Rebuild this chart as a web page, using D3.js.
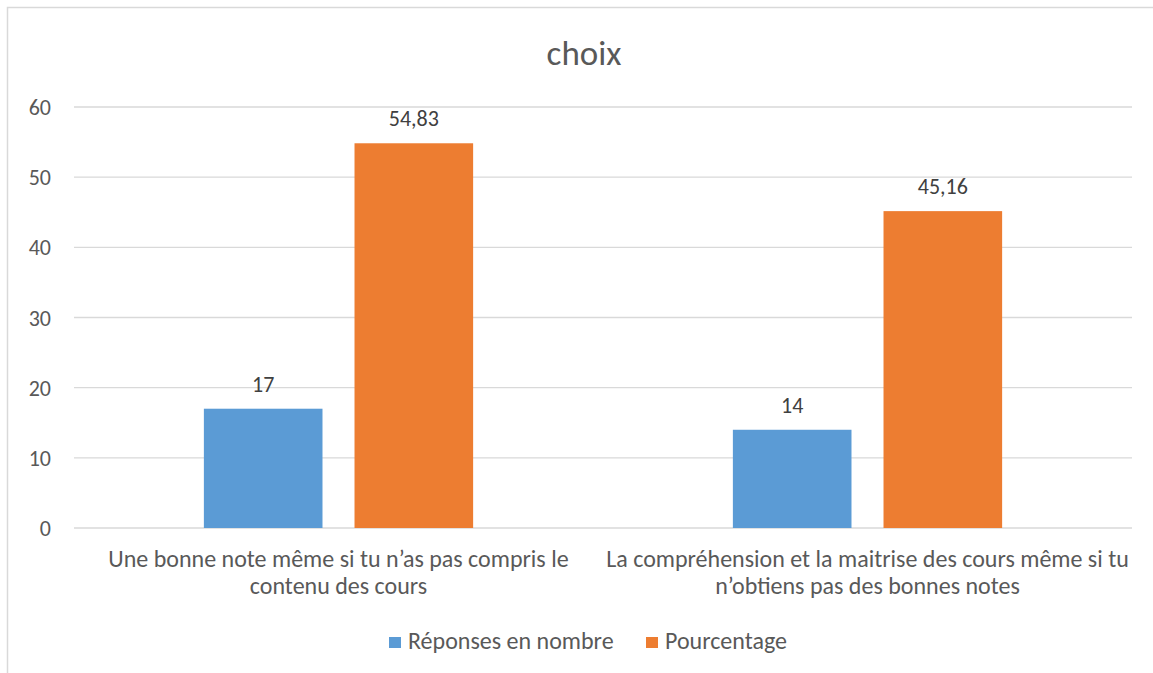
<!DOCTYPE html>
<html>
<head>
<meta charset="utf-8">
<script src="https://cdn.jsdelivr.net/npm/d3@7"></script>
<style>
  body { margin: 0; background: #fff; }
  svg text { font-family: Carlito, Calibri, Lato, sans-serif; }
</style>
</head>
<body>
<div id="chart"></div>
<script>
const categories = [
  ["Une bonne note même si tu n’as pas compris le", "contenu des cours"],
  ["La compréhension et la maitrise des cours même si tu", "n’obtiens pas des bonnes notes"]
];
const series = ["Réponses en nombre", "Pourcentage"];
const nombre = [17, 14];
const pourcentage = [54.83, 45.16];
const yTicks = [0, 10, 20, 30, 40, 50, 60];
const colors = ["#5B9BD5", "#ED7D31"];

const width = 1153, height = 673;
const margin = { top: 107, right: 21, bottom: 145, left: 74 };

const svg = d3.select("#chart").append("svg")
  .attr("width", width).attr("height", height);

// chart frame (cut at right/bottom like the reference)
svg.append("rect")
  .attr("x", 7.5).attr("y", 7.5)
  .attr("width", 1170).attr("height", 690)
  .attr("fill", "none").attr("stroke", "#D9D9D9").attr("stroke-width", 1.5);

const y = d3.scaleLinear().domain([0, 60]).range([height - margin.bottom, margin.top]);
const x0 = d3.scaleBand().domain(d3.range(categories.length))
  .range([margin.left, width - margin.right]).padding(0);
const groupW = x0.bandwidth() * 0.509;
const x1 = d3.scaleBand().domain(series)
  .range([(x0.bandwidth() - groupW) / 2, (x0.bandwidth() + groupW) / 2])
  .paddingInner(0.2126);

// gridlines
svg.append("g")
  .selectAll("line").data(yTicks).join("line")
  .attr("x1", margin.left).attr("x2", width - margin.right)
  .attr("y1", d => y(d)).attr("y2", d => y(d))
  .attr("stroke", "#D9D9D9").attr("stroke-width", 1.3);

// y tick labels
svg.append("g")
  .selectAll("text").data(yTicks).join("text")
  .attr("x", 51).attr("y", d => y(d) + 8)
  .attr("text-anchor", "end")
  .attr("fill", "#595959").attr("font-size", 22)
  .text(d => d);

const rows = categories.map((c, i) => ({ i, values: [nombre[i], pourcentage[i]] }));

const groups = svg.append("g").selectAll("g").data(rows).join("g")
  .attr("transform", d => `translate(${x0(d.i)},0)`);

groups.selectAll("rect")
  .data(d => d.values.map((v, k) => ({ key: series[k], v, k })))
  .join("rect")
  .attr("x", d => x1(d.key))
  .attr("width", x1.bandwidth())
  .attr("y", d => y(d.v))
  .attr("height", d => y(0) - y(d.v))
  .attr("fill", d => colors[d.k]);

const fmt = v => String(v).replace(".", ",");
groups.selectAll("text.lbl")
  .data(d => d.values.map((v, k) => ({ key: series[k], v, k })))
  .join("text")
  .attr("class", "lbl")
  .attr("x", d => x1(d.key) + x1.bandwidth() / 2)
  .attr("y", d => y(d.v) - 17)
  .attr("text-anchor", "middle")
  .attr("fill", "#404040").attr("font-size", 22)
  .text(d => fmt(d.v));

// category labels
svg.append("g").selectAll("text").data(categories).join("text")
  .attr("text-anchor", "middle")
  .attr("fill", "#595959").attr("font-size", 24)
  .each(function (d, i) {
    const t = d3.select(this);
    d.forEach((line, j) => {
      t.append("tspan")
        .attr("x", x0(i) + x0.bandwidth() / 2)
        .attr("y", 567 + j * 27)
        .text(line);
    });
  });

// title
svg.append("text")
  .attr("x", 584).attr("y", 65)
  .attr("text-anchor", "middle")
  .attr("fill", "#595959").attr("font-size", 35)
  .text("choix");

// legend
const legend = svg.append("g");
const legX = [389, 646];
series.forEach((s, k) => {
  legend.append("rect")
    .attr("x", legX[k]).attr("y", 637)
    .attr("width", 12).attr("height", 11)
    .attr("fill", colors[k]);
  legend.append("text")
    .attr("x", legX[k] + 19).attr("y", 649)
    .attr("fill", "#595959").attr("font-size", 24)
    .text(s);
});
</script>
</body>
</html>
